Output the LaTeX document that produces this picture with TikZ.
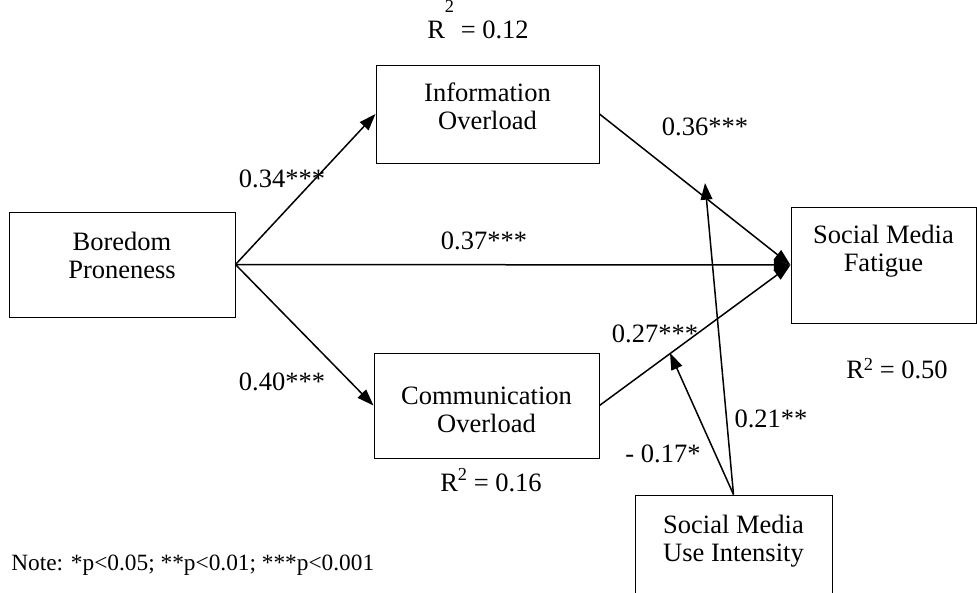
\documentclass[tikz,border=0pt]{standalone}
\usepackage{fontspec}
\setmainfont{Liberation Serif}
\usetikzlibrary{arrows.meta}

\newcommand{\boxtxt}[4]{\parbox[c][#2pt][t]{#1pt}{\centering\vspace*{#3pt}#4\par}}
\newcommand{\rsq}[2]{R\raisebox{#1pt}{\fontsize{11}{11}\selectfont 2} = #2}

\tikzset{
  blk/.style={draw, line width=0.6pt, inner sep=0pt},
  lbl/.style={anchor=base, inner sep=0pt},
  arr/.style={-{Triangle[length=10pt,width=7pt]}, line width=0.9pt},
}

\begin{document}
\begin{tikzpicture}[x=0.6pt, y=-0.6pt, font=\fontsize{15.9}{16.8}\selectfont]
\useasboundingbox (0,0) rectangle (977,592);
% boxes
\node[blk] (bp) at (122,264.5) {\boxtxt{135.6}{63}{12}{Boredom\\Proneness}};
\node[blk] (io) at (487.5,114) {\boxtxt{133.8}{58.8}{10.8}{Information\\Overload}};
\node[blk] (co) at (486.5,405.5) {\boxtxt{135}{63}{20.4}{Communication\\Overload}};
\node[blk] (smf) at (883.5,265) {\boxtxt{111}{69.6}{10.8}{Social Media\\Fatigue}};
\node[blk] (smui) at (733.5,547.5) {\boxtxt{118.2}{63}{12}{Social Media\\Use Intensity}};
% paths
\draw[arr] (bp.east) -- (io.west);
\draw[arr] (bp.east) -- (co.west);
\draw[arr] (bp.east) -- (smf.west);
\draw[arr] (io.east) -- (smf.west);
\draw[arr] (co.east) -- (smf.west);
% moderation
\coordinate (m1) at (705,183);
\coordinate (m2) at (670,353);
\draw[arr] (smui.north) -- (m1);
\draw[arr] (smui.north) -- (m2);
% coefficients
\node[lbl] (c34) at (282,187) {0.34***};
\node[lbl] (c40) at (282,390) {0.40***};
\node[lbl] (c37) at (484,249) {0.37***};
\node[lbl] (c36) at (705,135) {0.36***};
\node[lbl] (c27) at (655,342) {0.27***};
\node[lbl] (c21) at (771,427) {0.21**};
\node[lbl] (c17) at (663,462) {- 0.17*};
% r squared
\node[lbl] (r12) at (478,38) {\rsq{15.5}{0.12}};
\node[lbl] (r16) at (491,491) {\rsq{6.6}{0.16}};
\node[lbl] (r50) at (897,378) {\rsq{4.8}{0.50}};
% note
\node[lbl, anchor=base west, font=\fontsize{14}{16}\selectfont] (note) at (11,570) {Note: *p<0.05; **p<0.01; ***p<0.001};
\end{tikzpicture}
\end{document}
